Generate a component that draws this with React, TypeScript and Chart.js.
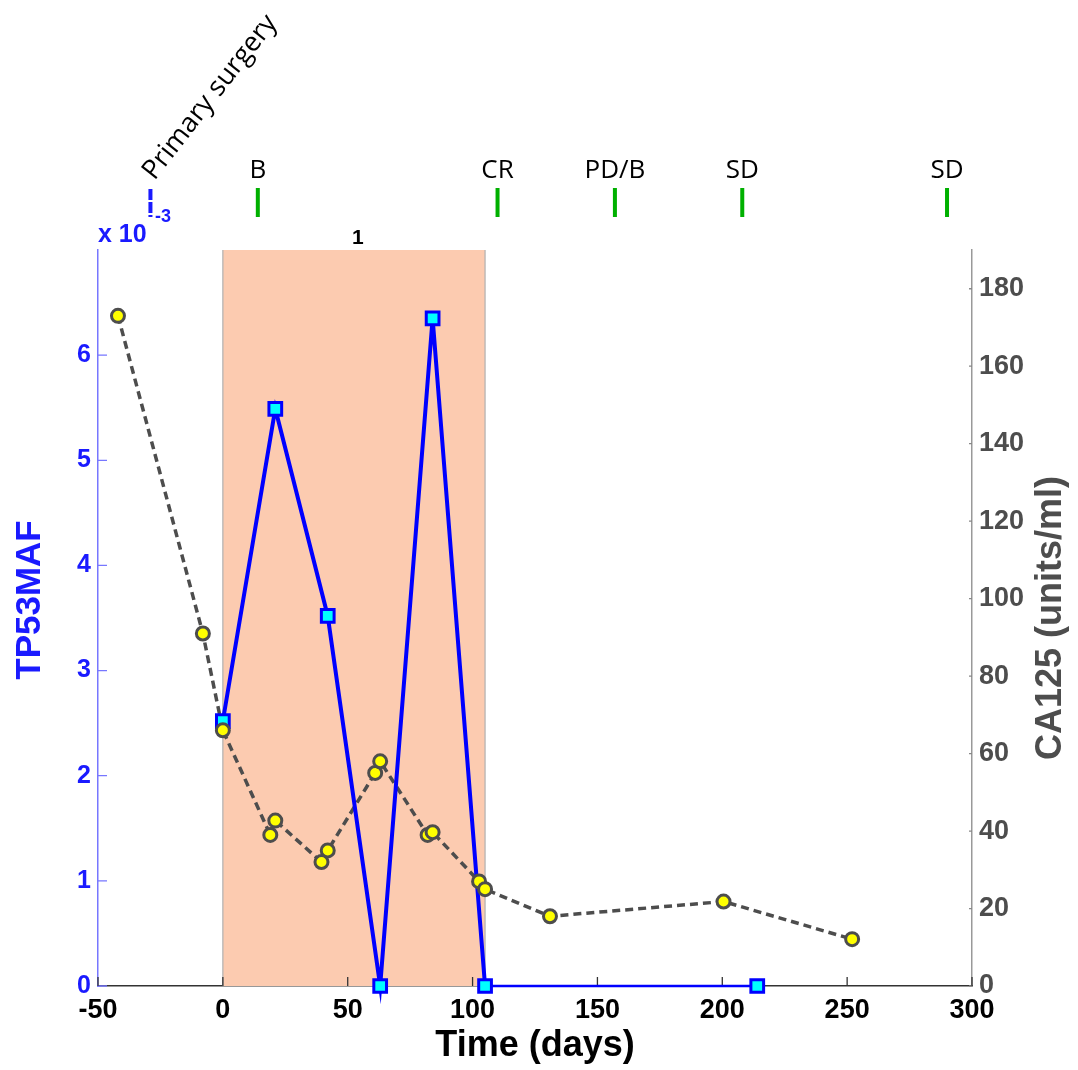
import React, { useEffect, useRef } from "react";
import { Chart, registerables } from "chart.js";

Chart.register(...registerables);

// ---- data ----
const tp53Days = [0, 21, 42, 63, 84, 105, 214];
const tp53Maf = [2.52, 5.49, 3.52, 0, 6.35, 0, 0]; // x 10^-3

const ca125Days = [-42, -8, 0, 19, 21, 39.5, 42, 61, 63, 82, 84, 102.6, 105, 131, 200.5, 252];
const ca125Values = [173, 91, 66, 39, 42.7, 32, 35, 55, 58, 39, 39.7, 27, 25, 18, 21.8, 12.1];

const xTicks = [-50, 0, 50, 100, 150, 200, 250, 300];
const leftTicks = [0, 1, 2, 3, 4, 5, 6];
const rightTicks = [0, 20, 40, 60, 80, 100, 120, 140, 160, 180];

const eventDays = [14, 110, 157, 208, 290];
const eventLabels = ["B", "CR", "PD/B", "SD", "SD"];
const surgeryDay = [-29];
const surgeryLabel = ["Primary surgery"];

const cycleStart = [0];
const cycleEnd = [105];
const cycleLabel = ["1"];

const BLUE = "#1a1aff";
const GRAY = "#4d4d4d";
const ARIAL = "'Liberation Sans', Arial, sans-serif";
const CALIBRI = "'Open Sans', 'Noto Sans', sans-serif";

const decorPlugin = {
  id: "decor",
  beforeDatasetsDraw(chart: any) {
    const { ctx, chartArea, scales } = chart;
    const x = scales.x;
    ctx.save();
    for (let i = 0; i < cycleStart.length; i++) {
      const x0 = x.getPixelForValue(cycleStart[i]);
      const x1 = x.getPixelForValue(cycleEnd[i]);
      ctx.fillStyle = "#fccbb0";
      ctx.fillRect(x0, chartArea.top, x1 - x0, chartArea.bottom - chartArea.top);
      ctx.strokeStyle = "#b0b0b0";
      ctx.lineWidth = 1.2;
      ctx.beginPath();
      ctx.moveTo(x0, chartArea.top);
      ctx.lineTo(x0, chartArea.bottom);
      ctx.moveTo(x1, chartArea.top);
      ctx.lineTo(x1, chartArea.bottom);
      ctx.stroke();
    }
    // inward tick marks
    const yl = scales.yL;
    const yr = scales.yR;
    ctx.lineWidth = 1.3;
    ctx.strokeStyle = "#7777ff";
    ctx.beginPath();
    leftTicks.forEach((v) => {
      const p = yl.getPixelForValue(v);
      ctx.moveTo(chartArea.left, p);
      ctx.lineTo(chartArea.left + 9, p);
    });
    ctx.stroke();
    ctx.strokeStyle = "#888";
    ctx.beginPath();
    rightTicks.forEach((v) => {
      const p = yr.getPixelForValue(v);
      ctx.moveTo(chartArea.right, p);
      ctx.lineTo(chartArea.right - 3, p);
    });
    ctx.stroke();
    ctx.strokeStyle = "#333";
    ctx.beginPath();
    xTicks.forEach((v) => {
      const p = x.getPixelForValue(v);
      ctx.moveTo(p, chartArea.bottom);
      ctx.lineTo(p, chartArea.bottom - 9);
    });
    ctx.stroke();
    ctx.restore();
  },
  afterDraw(chart: any) {
    const { ctx, chartArea, scales } = chart;
    const x = scales.x;
    ctx.save();
    // axis titles
    ctx.textAlign = "center";
    ctx.textBaseline = "middle";
    ctx.fillStyle = "#000";
    ctx.font = `bold 36px ${ARIAL}`;
    ctx.fillText("Time (days)", (chartArea.left + chartArea.right) / 2, 1046);

    ctx.save();
    ctx.translate(30, 600);
    ctx.rotate(-Math.PI / 2);
    ctx.fillStyle = BLUE;
    ctx.font = `bold 35px ${ARIAL}`;
    ctx.fillText("TP53MAF", 0, 0);
    ctx.restore();

    ctx.save();
    ctx.translate(1051, 618);
    ctx.rotate(-Math.PI / 2);
    ctx.fillStyle = GRAY;
    ctx.font = `bold 36px ${ARIAL}`;
    ctx.fillText("CA125 (units/ml)", 0, 0);
    ctx.restore();

    // exponent
    ctx.textAlign = "left";
    ctx.textBaseline = "alphabetic";
    ctx.fillStyle = BLUE;
    ctx.font = `bold 25px ${ARIAL}`;
    ctx.fillText("x 10", 98, 242);
    ctx.font = `bold 18px ${ARIAL}`;
    ctx.fillText("-3", 155, 222);

    // cycle label
    ctx.textAlign = "center";
    ctx.fillStyle = "#000";
    ctx.font = `bold 21px ${ARIAL}`;
    for (let i = 0; i < cycleStart.length; i++) {
      const cx = x.getPixelForValue((cycleStart[i] + cycleEnd[i]) / 2) + 4;
      ctx.fillText(cycleLabel[i], cx, 244);
    }

    // events
    ctx.font = `26px ${CALIBRI}`;
    eventDays.forEach((d, i) => {
      const p = x.getPixelForValue(d);
      ctx.fillStyle = "#00b000";
      ctx.fillRect(p - 2, 188, 4, 29);
      ctx.fillStyle = "#000";
      ctx.textAlign = "center";
      ctx.fillText(eventLabels[i], p, 178);
    });

    // surgery
    surgeryDay.forEach((d, i) => {
      const p = x.getPixelForValue(d);
      ctx.strokeStyle = BLUE;
      ctx.lineWidth = 4;
      ctx.setLineDash([11, 2]);
      ctx.beginPath();
      ctx.moveTo(p, 189);
      ctx.lineTo(p, 217);
      ctx.stroke();
      ctx.setLineDash([]);
      ctx.save();
      ctx.translate(p + 4, 181);
      ctx.rotate(-52 * Math.PI / 180);
      ctx.fillStyle = "#000";
      ctx.textAlign = "left";
      ctx.font = `27px ${CALIBRI}`;
      ctx.fillText(surgeryLabel[i], 0, 0);
      ctx.restore();
    });
    ctx.restore();
  },
};

export default function App() {
  const ref = useRef<HTMLCanvasElement | null>(null);
  useEffect(() => {
    if (!ref.current) return;
    const caPts = ca125Days.map((d, i) => ({ x: d, y: ca125Values[i] }));
    const tpPts = tp53Days.map((d, i) => ({ x: d, y: tp53Maf[i] }));
    const chart = new Chart(ref.current, {
      type: "line",
      data: {
        datasets: [
          {
            label: "CA125 points",
            data: caPts,
            yAxisID: "yR",
            showLine: false,
            pointRadius: 6.5,
            pointBorderWidth: 3,
            pointBackgroundColor: "#ffff00",
            pointBorderColor: GRAY,
            order: 0,
            clip: false,
          },
          {
            label: "TP53MAF",
            data: tpPts,
            yAxisID: "yL",
            borderColor: "#0000ff",
            borderWidth: 4,
            segment: {
              borderWidth: (c: any) => (c.p0DataIndex === tp53Days.length - 2 ? 2.5 : 4),
            },
            pointStyle: "rect",
            pointRadius: 9,
            pointBorderWidth: 3,
            pointBackgroundColor: "#00ffff",
            pointBorderColor: "#0000ff",
            tension: 0,
            order: 1,
            clip: false,
          },
          {
            label: "CA125",
            data: caPts,
            yAxisID: "yR",
            borderColor: GRAY,
            borderWidth: 3.5,
            borderDash: [8, 5],
            pointRadius: 0,
            tension: 0,
            order: 2,
            clip: false,
          },
        ],
      },
      options: {
        responsive: false,
        animation: false,
        layout: { padding: { top: 250, left: 0, right: 0, bottom: 0 } },
        plugins: { legend: { display: false }, tooltip: { enabled: false } },
        scales: {
          x: {
            type: "linear",
            min: -50,
            max: 300,
            afterFit: (s: any) => { s.height = 84; },
            afterBuildTicks: (s: any) => { s.ticks = xTicks.map((v) => ({ value: v })); },
            grid: { display: false, drawTicks: false },
            border: { display: true, color: "#333", width: 1.5 },
            ticks: {
              color: "#000",
              padding: 8,
              maxRotation: 0,
              font: { family: ARIAL, size: 27, weight: "bold" },
            },
          },
          yL: {
            type: "linear",
            position: "left",
            min: 0,
            max: 7,
            afterFit: (s: any) => { s.width = 98; },
            afterBuildTicks: (s: any) => { s.ticks = leftTicks.map((v) => ({ value: v })); },
            grid: { display: false, drawTicks: false },
            border: { display: true, color: "#7777ff", width: 1.5 },
            ticks: {
              color: BLUE,
              padding: 7,
              font: { family: ARIAL, size: 25, weight: "bold" },
            },
          },
          yR: {
            type: "linear",
            position: "right",
            min: 0,
            max: 190,
            afterFit: (s: any) => { s.width = 106; },
            afterBuildTicks: (s: any) => { s.ticks = rightTicks.map((v) => ({ value: v })); },
            grid: { display: false, drawTicks: false },
            border: { display: true, color: "#999", width: 1.5 },
            ticks: {
              color: GRAY,
              padding: 7,
              font: { family: ARIAL, size: 27, weight: "bold" },
            },
          },
        },
      },
      plugins: [decorPlugin],
    } as any);
    return () => chart.destroy();
  }, []);
  return (
    <div style={{ position: "absolute", left: 0, top: 0, width: 1078, height: 1070, background: "#fff" }}>
      <canvas ref={ref} width={1078} height={1070} style={{ display: "block" }} />
    </div>
  );
}
